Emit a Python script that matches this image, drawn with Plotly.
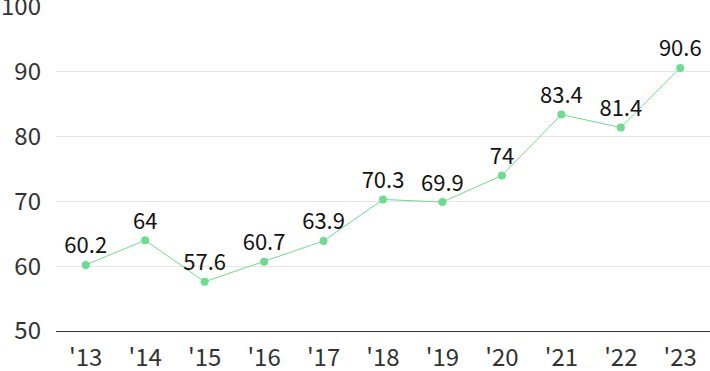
import plotly.graph_objects as go

years = ["'13", "'14", "'15", "'16", "'17", "'18", "'19", "'20", "'21", "'22", "'23"]
values = [60.2, 64, 57.6, 60.7, 63.9, 70.3, 69.9, 74, 83.4, 81.4, 90.6]
y_ticks = [50, 60, 70, 80, 90, 100]

FONT = "Noto Sans CJK KR"

fig = go.Figure(go.Scatter(
    x=years, y=values, mode="lines+markers+text",
    text=[str(v) for v in values], textposition="top center",
    textfont=dict(size=22, color="#111111", family=FONT),
    line=dict(color="#6ddc8f", width=1),
    marker=dict(color="#6ddc8f", size=8),
    cliponaxis=False,
))
fig.update_layout(
    width=710, height=371,
    margin=dict(l=56, r=0, t=7, b=40),
    plot_bgcolor="white", paper_bgcolor="white",
    showlegend=False,
    font=dict(family=FONT, color="#333333"),
)
fig.update_xaxes(
    type="category", range=[-0.5, 10.5], showgrid=False, automargin=False,
    tickfont=dict(size=24, color="#333333"), ticks="", ticklabelstandoff=5,
    showline=True, linecolor="#333333", linewidth=1,
)
fig.update_yaxes(
    range=[50, 100], tickvals=y_ticks, showgrid=True, gridcolor="#e6e6e6",
    automargin=False, ticklabeloverflow="allow",
    tickfont=dict(size=24, color="#333333"), ticklabelstandoff=14,
    zeroline=False,
)
fig.write_html(
    "out.html",
    config={"displayModeBar": False},
    post_script="document.body.style.margin='0';document.body.style.overflow='hidden';",
)
